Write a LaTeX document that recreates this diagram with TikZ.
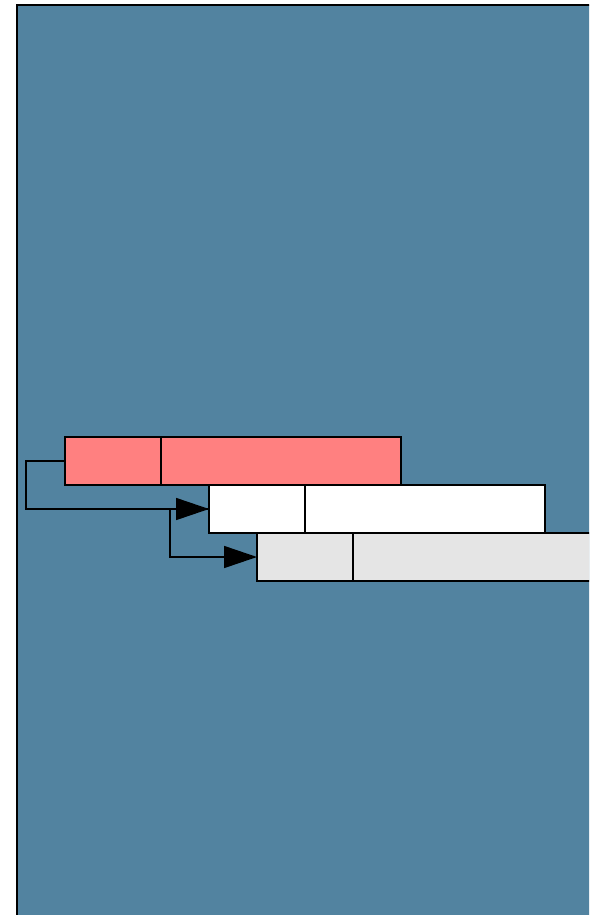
\documentclass[tikz,border=0pt]{standalone}
\usetikzlibrary{arrows.meta,positioning}
\definecolor{lstbg}{HTML}{5283A0}
\definecolor{lstred}{HTML}{FF8080}
\definecolor{lstgray}{HTML}{E5E5E5}
\tikzset{
  cell/.style={draw=black, line width=1pt, outer sep=0pt, inner sep=0pt, minimum height=24pt},
  keycell/.style={cell, minimum width=48pt},
  valcell/.style={cell, minimum width=120pt},
  link/.style={-{Triangle[length=16.5pt, width=11pt]}, line width=0.8pt, color=black},
}
\begin{document}
\begin{tikzpicture}[x=0.5pt, y=-0.5pt]
  \useasboundingbox (0,0) rectangle (589,915);
  \clip (0,0) rectangle (589,915);
  \draw[fill=lstbg, line width=1pt] (17,5) rectangle (620,940);
  \foreach \nm/\x/\y/\col in {1/65/461/lstred, 2/209/509/white, 3/257/557/lstgray}
  {
    \node[keycell, fill=\col, anchor=west] (k\nm) at (\x,\y) {};
    \node[valcell, fill=\col, right=0pt of k\nm] (v\nm) {};
  }
  \draw[link] (k1.west) -- ++(-39,0) |- (k2.west);
  \draw[link] (k2.west) -- ++(-39,0) |- (k3.west);
\end{tikzpicture}
\end{document}
